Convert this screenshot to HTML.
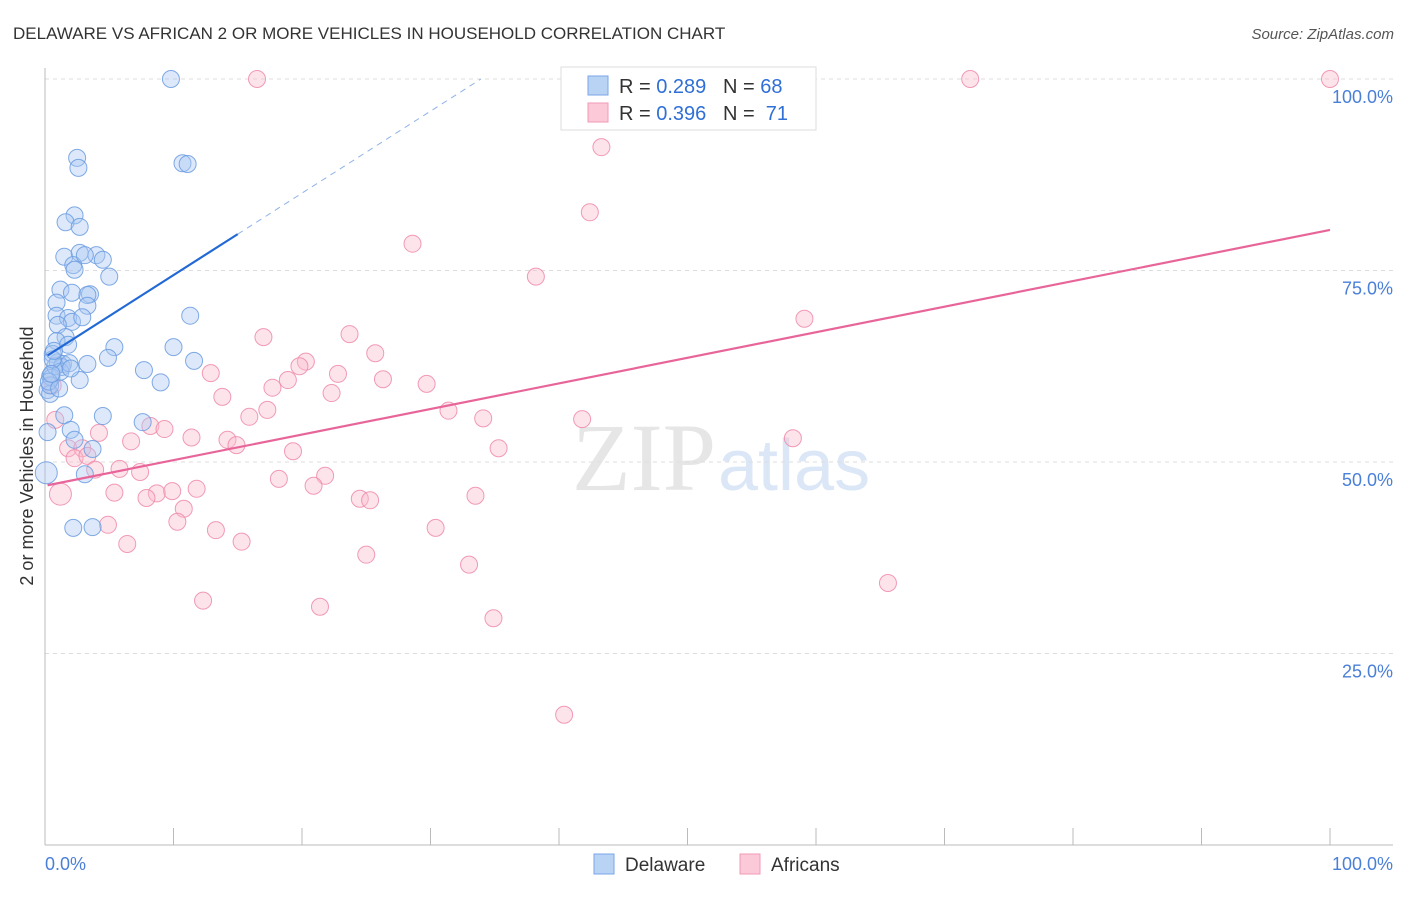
<!DOCTYPE html>
<html><head><meta charset="utf-8"><style>
body{margin:0;background:#fff;font-family:"Liberation Sans",sans-serif}
</style></head><body>
<svg id="chart" width="1406" height="892" xmlns="http://www.w3.org/2000/svg" font-family="Liberation Sans, sans-serif">
<text x="13" y="39" font-size="17" fill="#333">DELAWARE VS AFRICAN 2 OR MORE VEHICLES IN HOUSEHOLD CORRELATION CHART</text>
<text x="1394" y="39" font-size="15" fill="#555" font-style="italic" text-anchor="end">Source: ZipAtlas.com</text>
<text x="716" y="490" font-size="96" fill="#e6e6e6" text-anchor="end" font-family="Liberation Serif, serif">ZIP</text>
<text x="718" y="490" font-size="72" fill="#dbe7f7">atlas</text>
<g id="grid"></g>
<g id="axes"></g>
<g id="pts"></g>
<g id="lines"></g>
<text transform="translate(33,456) rotate(-90)" font-size="18" fill="#333" text-anchor="middle">2 or more Vehicles in Household</text>
<text x="45" y="870" font-size="18" fill="#4a7fd8">0.0%</text>
<text x="1393" y="870" font-size="18" fill="#4a7fd8" text-anchor="end">100.0%</text>
<g>
<rect x="561" y="67" width="255" height="63" fill="#fff" stroke="#ddd"/>
<rect x="588" y="76" width="20" height="19" fill="#b9d3f5" stroke="#7aa6e6"/>
<rect x="588" y="103" width="20" height="19" fill="#fbc9d8" stroke="#f09ab5"/>
<text x="619" y="93" font-size="20" fill="#333" xml:space="preserve">R = <tspan fill="#2f6fd6">0.289</tspan>   N = <tspan fill="#2f6fd6">68</tspan></text>
<text x="619" y="120" font-size="20" fill="#333" xml:space="preserve">R = <tspan fill="#2f6fd6">0.396</tspan>   N =  <tspan fill="#2f6fd6">71</tspan></text>
</g>
<g>
<rect x="594" y="854" width="20" height="20" fill="#b9d3f5" stroke="#7aa6e6"/>
<text x="625" y="871" font-size="19" fill="#333">Delaware</text>
<rect x="740" y="854" width="20" height="20" fill="#fbc9d8" stroke="#f09ab5"/>
<text x="771" y="871" font-size="19" fill="#333">Africans</text>
</g>
</svg>
<script>
const yTicks=[25,50,75,100];
const yTickLabels=["25.0%","50.0%","75.0%","100.0%"];
const xTicks=[0,10,20,30,40,50,60,70,80,90,100];
const blueX=[9.8,2.5,2.6,10.7,11.1,2.3,1.6,2.7,1.5,2.7,4.0,2.2,2.3,4.5,3.1,5.0,1.2,2.1,3.5,3.3,0.9,3.3,0.9,1.8,2.1,1.0,2.9,11.3,1.6,0.9,1.8,5.4,10.0,0.6,4.9,11.6,3.3,1.0,1.4,1.3,7.7,0.4,0.5,2.7,9.0,0.2,0.4,1.5,4.5,7.6,2.0,0.2,2.3,3.7,3.1,0.1,2.2,3.7,0.8,1.2,0.4,1.9,0.6,0.3,1.1,2.0,0.7,0.5];
const blueY=[100,89.7,88.4,89.0,88.9,82.2,81.3,80.7,76.8,77.3,77.0,75.7,75.1,76.4,77.0,74.2,72.5,72.1,71.9,71.8,70.8,70.4,69.1,68.8,68.3,67.9,68.9,69.1,66.3,65.8,65.3,65.0,65.0,64.1,63.6,63.2,62.8,63.0,62.8,62.4,62.0,61.2,61.0,60.7,60.4,59.4,58.9,56.1,56.0,55.2,54.2,53.9,52.9,51.7,48.4,48.6,41.4,41.5,62.5,61.8,60.0,62.9,63.4,60.5,59.6,62.2,64.5,61.5];
const pinkX=[16.5,72,100,43.3,42.4,28.6,38.2,59.1,23.7,17.0,25.7,20.3,19.8,12.9,22.8,18.9,26.3,29.7,17.7,22.3,13.8,17.3,15.9,31.4,34.1,41.8,8.2,9.3,4.2,11.4,14.2,14.9,6.7,19.3,35.3,58.2,0.8,1.8,2.9,2.3,3.3,5.8,7.4,3.9,18.2,21.8,5.4,8.7,9.9,11.8,20.9,7.9,1.2,24.5,25.3,33.5,10.8,10.3,4.9,13.3,30.4,6.4,15.3,25.0,33.0,65.6,12.3,21.4,34.9,40.4,0.6];
const pinkY=[100,100,100,91.1,82.6,78.5,74.2,68.7,66.7,66.3,64.2,63.1,62.5,61.6,61.5,60.7,60.8,60.2,59.7,59.0,58.5,56.8,55.9,56.7,55.7,55.6,54.7,54.3,53.8,53.2,52.9,52.2,52.7,51.4,51.8,53.1,55.5,51.8,51.8,50.5,50.8,49.1,48.7,49.0,47.8,48.2,46.0,45.9,46.2,46.5,46.9,45.3,45.8,45.2,45.0,45.6,43.9,42.2,41.8,41.1,41.4,39.3,39.6,37.9,36.6,34.2,31.9,31.1,29.6,17.0,60.0];
const blueLine=[63.7,1.07];
const pinkLine=[46.9,0.334];
const sx=v=>45+v*12.85, sy=v=>845-v*7.66;
const NS="http://www.w3.org/2000/svg";
function mk(tag,attrs,parent){const e=document.createElementNS(NS,tag);for(const k in attrs)e.setAttribute(k,attrs[k]);parent.appendChild(e);return e;}
const grid=document.getElementById('grid'),axes=document.getElementById('axes'),pts=document.getElementById('pts'),lines=document.getElementById('lines');
yTicks.forEach((t,i)=>{
  const l=mk('line',{x1:45,x2:1393,y1:sy(t),y2:sy(t),stroke:'#ddd','stroke-dasharray':'4,4'},grid);
  
  
  const tx=mk('text',{x:1393,y:sy(t)+24,'font-size':18,fill:'#4a7fd8','text-anchor':'end'},grid);
  tx.textContent=yTickLabels[i];
  
  
});
let a=mk('line',{x1:45,x2:45,y1:68,y2:845,stroke:'#bbb'},axes);


a=mk('line',{x1:45,x2:1393,y1:845,y2:845,stroke:'#bbb'},axes);


xTicks.forEach(t=>{const l=mk('line',{x1:sx(t),x2:sx(t),y1:828,y2:845,stroke:'#bbb'},axes);
  
  });
function dots(X,Y,fill,stroke,name,bigIdx){X.forEach((x,i)=>{const c=mk('circle',{cx:sx(x),cy:sy(Y[i]),r:(i===bigIdx?11:8.5),fill:fill,'fill-opacity':0.4,stroke:stroke,'stroke-width':1,'stroke-opacity':0.85},pts);
  
  });}
dots(pinkX,pinkY,'#f9bccd','#ee8aaa','africans-point',52);
dots(blueX,blueY,'#a9c8f2','#6a9be0','delaware-point',55);
let l=mk('line',{x1:sx(0.2),y1:sy(blueLine[0]+blueLine[1]*0.2),x2:sx(15),y2:sy(blueLine[0]+blueLine[1]*15),stroke:'#2369d6','stroke-width':2.2},lines);


const xe=(100-blueLine[0])/blueLine[1];
l=mk('line',{x1:sx(15),y1:sy(blueLine[0]+blueLine[1]*15),x2:sx(xe),y2:sy(100),stroke:'#8fb2e8','stroke-width':1,'stroke-dasharray':'6,5'},lines);


l=mk('line',{x1:sx(0.2),y1:sy(pinkLine[0]+pinkLine[1]*0.2),x2:sx(100),y2:sy(pinkLine[0]+pinkLine[1]*100),stroke:'#e8659a','stroke-width':2.2},lines);


</script>
</body></html>
